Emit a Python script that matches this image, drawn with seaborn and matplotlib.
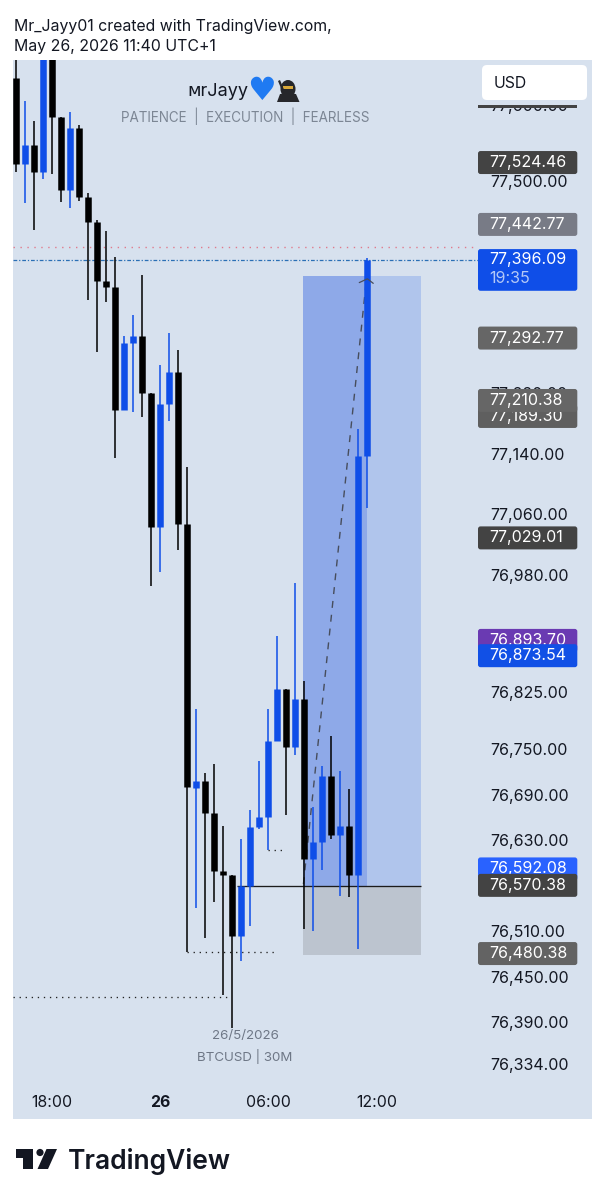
import matplotlib
matplotlib.use("Agg")

import numpy as np
import pandas as pd
import matplotlib.pyplot as plt
import seaborn as sns
from matplotlib.patches import FancyBboxPatch, Rectangle, Polygon, Circle, Ellipse
from matplotlib.transforms import IdentityTransform

# 30 minute BTCUSD candles
opens = [77636, 77522, 77548, 77512, 77686, 77584, 77488, 77570, 77479, 77446,
         77368, 77360, 77198, 77286, 77296, 77220, 77043, 77206, 77248, 77047,
         76699, 76708, 76666, 76590, 76584, 76504, 76570, 76648, 76660, 76761,
         76829, 76753, 76817, 76605, 76628, 76715, 76637, 76649, 76584, 77137]
highs = [77680, 77606, 77579, 77690, 77700, 77584, 77591, 77574, 77484, 77449,
         77434, 77400, 77295, 77323, 77376, 77220, 77257, 77299, 77277, 77123,
         76803, 76719, 76730, 76649, 76584, 76632, 76670, 76734, 76803, 76900,
         76829, 76969, 76840, 76674, 76728, 76767, 76721, 76697, 77173, 77398]
lows = [77512, 77471, 77435, 77503, 77509, 77472, 77464, 77474, 77343, 77274,
        77341, 77135, 77198, 77195, 77188, 76965, 76984, 77183, 77013, 76482,
        76541, 76501, 76549, 76426, 76382, 76470, 76517, 76645, 76617, 76761,
        76663, 76742, 76513, 76510, 76591, 76632, 76557, 76555, 76486, 77069]
closes = [77522, 77548, 77512, 77686, 77584, 77488, 77570, 77479, 77446, 77368,
          77360, 77198, 77286, 77296, 77220, 77043, 77206, 77248, 77047, 76700,
          76708, 76666, 76590, 76584, 76504, 76570, 76648, 76660, 76761, 76829,
          76753, 76817, 76605, 76628, 76715, 76637, 76649, 76584, 77137, 77396]

# price and time axis
price_ticks = [77600, 77500, 77300, 77220, 77140, 77060, 76980, 76900, 76825,
               76750, 76690, 76630, 76510, 76450, 76390, 76334]
time_ticks = [4, 16, 28, 40]
time_labels = ["18:00", "26", "06:00", "12:00"]

# price tags, drawn in this order (later ones cover earlier ones)
tag_prices = [77442.77, 77524.46, 77292.77, 77189.30, 77210.38, 77029.01,
              76893.70, 76873.54, 76592.08, 76570.38, 76480.38]
tag_colors = ["#787b86", "#434343", "#666666", "#5f5f5f", "#666666", "#434343",
              "#6a3ab2", "#1150e6", "#2962ff", "#434343", "#636363"]
last_price = 77396.09
countdown = "19:35"

# long position tool
pos_left, pos_mid, pos_right = 31.9, 39, 45
pos_target, pos_entry, pos_stop = 77375, 76570, 76478

# dotted levels: price, start candle, end candle
level_prices = [76482, 76423, 76617]
level_starts = [19, -0.3, 28]
level_ends = [28.7, 23.9, 30]

arrow_x = [31.9, 38.9]
arrow_y = [76572, 77371]
chevron_x = [38.1, 39.0, 39.65]
chevron_y = [77366, 77371, 77365]

W, H = 606, 1200
PANEL = "#d7e1ee"
BLUE = "#0f4ee8"
BLACK = "#000000"
FONT = ["Inter", "DejaVu Sans"]

sns.set_theme(style="white")
plt.rcParams["font.family"] = FONT

fig = plt.figure(figsize=(W / 100, H / 100), dpi=100, facecolor="white")
ax = fig.add_axes([13.3 / W, 1 - 1119 / H, (592 - 13.3) / W, (1119 - 60) / H])
ax.set_facecolor(PANEL)
ax.set_xlim(-0.3, 63.93)
ax.set_ylim(76262, 77659.8)
ax.autoscale(False)

# candles, each one is a thin and a thick line through seaborn
df = pd.DataFrame({"open": opens, "high": highs, "low": lows, "close": closes})
df["i"] = df.index
df["side"] = np.where(df["close"] >= df["open"], "up", "down")
palette = {"up": BLUE, "down": BLACK}

wicks = df.melt(id_vars=["i", "side"], value_vars=["high", "low"], value_name="price")
bodies = df.melt(id_vars=["i", "side"], value_vars=["open", "close"], value_name="price")
sns.lineplot(data=wicks, x="i", y="price", hue="side", units="i", estimator=None,
             sort=False, palette=palette, legend=False, linewidth=1.1, ax=ax,
             zorder=3, solid_capstyle="butt")
sns.lineplot(data=bodies, x="i", y="price", hue="side", units="i", estimator=None,
             sort=False, palette=palette, legend=False, linewidth=4.7, ax=ax,
             zorder=3.1, solid_capstyle="butt")

# long position
ax.add_patch(Rectangle((pos_left, pos_entry), pos_mid - pos_left, pos_target - pos_entry,
                       fc="#8ea9e8", ec="none", zorder=1))
ax.add_patch(Rectangle((pos_mid, pos_entry), pos_right - pos_mid, pos_target - pos_entry,
                       fc="#b0c5ec", ec="none", zorder=1))
ax.add_patch(Rectangle((pos_left, pos_stop), pos_right - pos_left, pos_entry - pos_stop,
                       fc="#bcc4cf", ec="none", zorder=1))
ax.hlines(pos_entry, 24.5, pos_right, color="#1c1c1c", lw=0.95, zorder=2.2)

# reference levels
ax.hlines(77413, -0.3, 50.7, color="#e07a8c", lw=1.0, linestyles=[(0, (1, 4))], zorder=2)
ax.hlines(last_price, -0.3, 51.28, color="#2a6fb5", lw=0.9, linestyles=[(0, (3, 1.5, 1, 1.5))], zorder=2)
for p, a, b in zip(level_prices, level_starts, level_ends):
    ax.hlines(p, a, b, color="#222222", lw=0.95, linestyles=[(0, (1, 3.6))], zorder=2)

# projection arrow
ax.plot(arrow_x, arrow_y, color="#474d5c", lw=1.0, ls=(0, (5, 5)), zorder=2.5)
ax.plot(chevron_x, chevron_y, color="#474d5c", lw=0.9, zorder=3.5)

# axis labels sit inside the panel
ax.yaxis.tick_right()
ax.set_yticks(price_ticks)
ax.set_yticklabels([f"{p:,.2f}" for p in price_ticks])
ax.set_xticks(time_ticks)
ax.set_xticklabels(time_labels)
ax.tick_params(axis="y", length=0, pad=-73.4, labelsize=11.5, labelcolor="#131722")
ax.tick_params(axis="x", length=0, pad=-17.2, labelsize=11.4, labelcolor="#131722")
ax.get_xticklabels()[1].set_fontweight("bold")
ax.set_xlabel("")
ax.set_ylabel("")
sns.despine(ax=ax, left=True, bottom=True, right=True, top=True)


def pxbox(x0, y0, x1, y1, color, z, rounding=2.5):
    box = FancyBboxPatch((x0, H - y1), x1 - x0, y1 - y0,
                         boxstyle=f"round,pad=0,rounding_size={rounding}",
                         fc=color, ec="none", transform=IdentityTransform(),
                         zorder=z, clip_on=False)
    ax.add_patch(box)


def price_to_y(p):
    return H - ax.transData.transform((0, p))[1]


TAG_X = 52.55
z = 4
for p, c in zip(tag_prices, tag_colors):
    y = price_to_y(p)
    pxbox(478, y - 11.5, 577.3, y + 11.5, c, z)
    ax.text(TAG_X, p, f"{p:,.2f}", color="white", fontsize=11.5, va="center", ha="left", zorder=z + 0.1)
    z += 0.2

y = price_to_y(last_price)
pxbox(478, y - 10.7, 577.3, y + 31, BLUE, z)
ax.text(TAG_X, last_price, f"{last_price:,.2f}", color="white", fontsize=11.5, va="center", ha="left", zorder=z + 0.1)
ax.text(TAG_X, last_price - 25, countdown, color="#b4c8f6", fontsize=11.5, va="center", ha="left", zorder=z + 0.1)

# currency button and the clipped top of the scale
ax.add_patch(Rectangle((478, H - 105), 114, 45, fc=PANEL, ec="none",
                       transform=IdentityTransform(), zorder=8))
ax.add_patch(Rectangle((478, H - 108), 99.3, 3, fc="#434343", ec="none",
                       transform=IdentityTransform(), zorder=9))
pxbox(482, 65, 587, 100, "white", 10, rounding=5)
fig.text(494 / W, 1 - 83 / H, "USD", color="#131722", fontsize=11.4, va="center", zorder=11)

# watermark and chart info
fig.text(187.5 / W, 1 - 91 / H, "\u1d0drJayy", family=FONT, color="#131722", fontsize=13, va="center", zorder=5)
fig.text(261.5 / W, 1 - 91 / H, "\u2665", family=["DejaVu Sans"], color="#1f7af2", fontsize=23, va="center", ha="center", zorder=5)
fig.text(245 / W, 1 - 116 / H, "PATIENCE  |  EXECUTION  |  FEARLESS", color="#7c8694", fontsize=9.7, va="center", ha="center", zorder=5)
fig.text(245 / W, 1 - 1035.5 / H, "26/5/2026", color="#6e7786", fontsize=9.6, va="center", ha="center", zorder=5)
fig.text(245 / W, 1 - 1057 / H, "BTCUSD | 30M", color="#6e7786", fontsize=9.6, va="center", ha="center", zorder=5)

# little ninja next to the heart, no emoji font here
ninja = [Polygon([(277, H - 102), (280, H - 94), (296, H - 94), (299.5, H - 102)], fc="#26272b", ec="none"),
         Ellipse((288, H - 89), 15, 18, fc="#26272b", ec="none"),
         Rectangle((283, H - 89), 10, 3.5, fc="#d9a93a", ec="none"),
         Polygon([(278, H - 81), (280, H - 80), (285, H - 92), (283, H - 93)], fc="#26272b", ec="none")]
for art in ninja:
    art.set_transform(IdentityTransform())
    art.set_zorder(6)
    fig.add_artist(art)

# header and footer
fig.text(14 / W, 1 - 26 / H, "Mr_Jayy01 created with TradingView.com,", color="#131722", fontsize=11.4, va="center")
fig.text(14 / W, 1 - 47 / H, "May 26, 2026 11:40 UTC+1", color="#131722", fontsize=11.4, va="center")

logo = [Polygon([(16, H - 1149), (33, H - 1149), (33, H - 1169), (23, H - 1169), (23, H - 1158), (16, H - 1158)], fc="#131722", ec="none"),
        Circle((40, H - 1152.5), 3.6, fc="#131722", ec="none"),
        Polygon([(46.5, H - 1149), (57, H - 1149), (48, H - 1169), (37.5, H - 1169)], fc="#131722", ec="none")]
for art in logo:
    art.set_transform(IdentityTransform())
    fig.add_artist(art)
fig.text(67.5 / W, 1 - 1169 / H, "TradingView", color="#131722", fontsize=19, fontweight="semibold", va="baseline")

fig.savefig("out.png", dpi=100, facecolor="white")
